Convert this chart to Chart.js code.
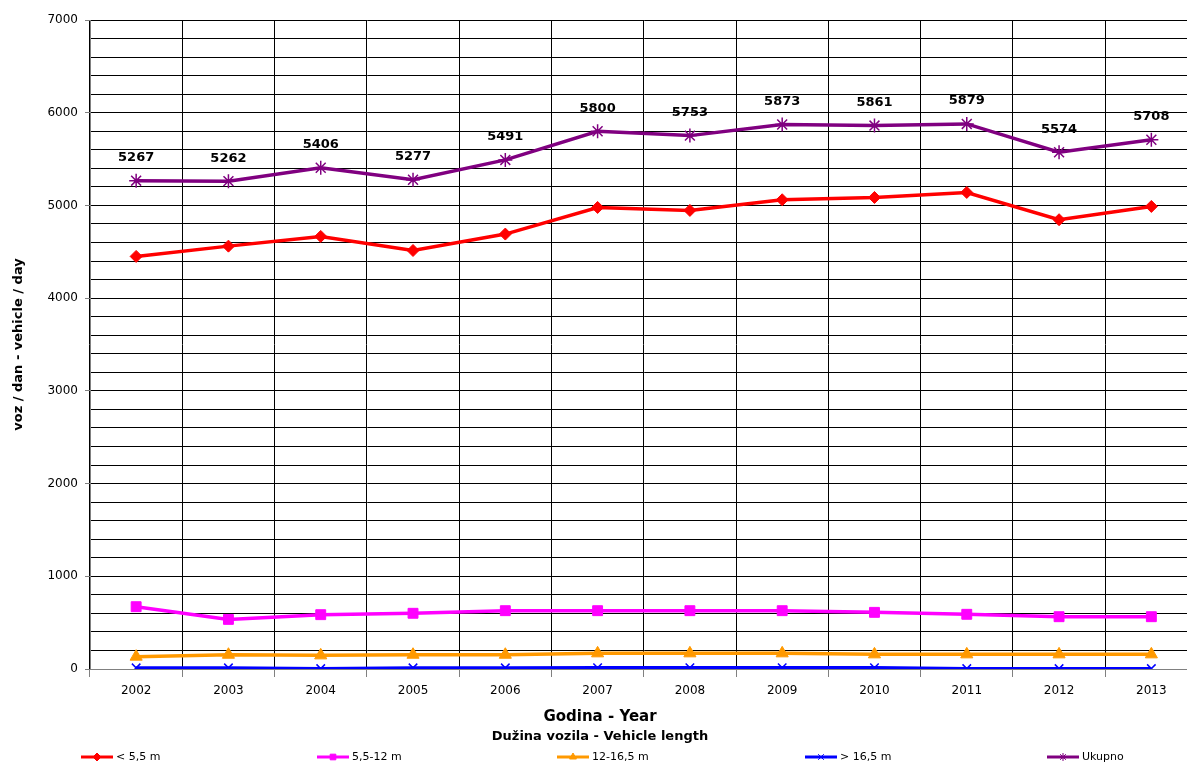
<!DOCTYPE html>
<html>
<head>
    <meta charset="utf-8">
    <title>Dužina vozila - Vehicle length</title>
    <script src="https://cdn.jsdelivr.net/npm/chart.js"></script>
    <style>
        body {
            margin: 0;
            padding: 0;
            background: #fff;
            overflow: hidden;
        }

        #chart-container {
            width: 1206px;
            height: 764px;
        }
    </style>
</head>
<body>
    <div id="chart-container">
        <canvas id="myChart" width="1206" height="764"></canvas>
    </div>

    <script>
        // data
        const years = ['2002', '2003', '2004', '2005', '2006', '2007', '2008', '2009', '2010', '2011', '2012', '2013'];
        const under55 = [4450, 4561, 4666, 4514, 4691, 4978, 4946, 5061, 5086, 5140, 4846, 4989];
        const from55to12 = [672, 535, 586, 601, 629, 629, 629, 629, 611, 590, 564, 564];
        const from12to165 = [133, 154, 147, 154, 154, 169, 169, 169, 158, 158, 158, 158];
        const over165 = [12, 12, 4, 12, 12, 14, 14, 14, 14, 4, 4, 4];
        const total = [5267, 5262, 5406, 5277, 5491, 5800, 5753, 5873, 5861, 5879, 5574, 5708];
        const seriesNames = ['< 5,5 m', '5,5-12 m', '12-16,5 m', '> 16,5 m', 'Ukupno'];
        const yLabels = [0, 1000, 2000, 3000, 4000, 5000, 6000, 7000];

        const FONT = '"DejaVu Sans", Verdana, sans-serif';

        function series(label, data, color, style, radius, pointWidth) {
            return {
                label: label,
                data: data,
                borderColor: color,
                backgroundColor: color,
                borderWidth: 3.5,
                pointStyle: style,
                pointRadius: radius,
                pointBorderWidth: pointWidth,
                pointBackgroundColor: color,
                pointBorderColor: color,
                tension: 0
            };
        }

        const datasets = [
            series(seriesNames[0], under55, '#ff0000', 'rectRot', 6, 1),
            series(seriesNames[1], from55to12, '#ff00ff', 'rect', 7, 1),
            series(seriesNames[2], from12to165, '#ff9900', 'triangle', 7, 1),
            series(seriesNames[3], over165, '#0000ff', 'crossRot', 6, 1.5),
            series(seriesNames[4], total, '#800080', 'star', 7, 1.5)
        ];

        // labels above the total line, x titles and the spread-out legend
        const extras = {
            id: 'extras',
            afterDraw(chart) {
                const ctx = chart.ctx;
                ctx.save();
                ctx.fillStyle = '#000';
                ctx.textAlign = 'center';
                ctx.textBaseline = 'middle';

                ctx.font = 'bold 13px ' + FONT;
                const meta = chart.getDatasetMeta(4);
                meta.data.forEach((pt, i) => {
                    ctx.fillText(String(total[i]), pt.x, pt.y - 23);
                });

                ctx.font = 'bold 15px ' + FONT;
                ctx.fillText('Godina - Year', 600, 717);
                ctx.font = 'bold 13px ' + FONT;
                ctx.fillText('Dužina vozila - Vehicle length', 600, 737);

                const legendX = [81, 317, 557, 805, 1047];
                const ly = 757;
                ctx.font = '11px ' + FONT;
                ctx.textAlign = 'left';
                datasets.forEach((ds, i) => {
                    const x0 = legendX[i];
                    ctx.strokeStyle = ds.borderColor;
                    ctx.lineWidth = 3;
                    ctx.beginPath();
                    ctx.moveTo(x0, ly);
                    ctx.lineTo(x0 + 32, ly);
                    ctx.stroke();
                    if (Chart.helpers && Chart.helpers.drawPoint) {
                        ctx.fillStyle = ds.borderColor;
                        ctx.lineWidth = 1;
                        Chart.helpers.drawPoint(ctx, {
                            pointStyle: ds.pointStyle,
                            radius: 4,
                            rotation: 0,
                            borderWidth: 1
                        }, x0 + 16, ly);
                    }
                    ctx.fillStyle = '#000';
                    ctx.fillText(ds.label, x0 + 35, ly);
                });
                ctx.restore();
            }
        };

        new Chart(document.getElementById('myChart'), {
            type: 'line',
            data: {
                labels: years,
                datasets: datasets
            },
            options: {
                responsive: false,
                animation: false,
                devicePixelRatio: 1,
                layout: {
                    padding: { top: 20, right: 3, left: 0, bottom: 0 }
                },
                plugins: {
                    legend: { display: false },
                    tooltip: { enabled: false }
                },
                scales: {
                    x: {
                        offset: true,
                        grid: {
                            offset: true,
                            color: '#000',
                            tickLength: 8,
                            tickColor: '#808080'
                        },
                        border: { color: '#808080' },
                        ticks: {
                            color: '#000',
                            font: { family: FONT, size: 12 },
                            padding: 7,
                            maxRotation: 0
                        },
                        afterFit(scale) { scale.height = 95; }
                    },
                    y: {
                        min: 0,
                        max: 7000,
                        ticks: {
                            stepSize: 200,
                            autoSkip: false,
                            color: '#000',
                            font: { family: FONT, size: 12 },
                            padding: 7,
                            callback: v => yLabels.includes(v) ? String(v) : ''
                        },
                        grid: {
                            color: '#000',
                            tickLength: 5,
                            tickColor: c => (c.tick && yLabels.includes(c.tick.value)) ? '#808080' : 'rgba(0,0,0,0)'
                        },
                        border: { color: '#808080' },
                        title: {
                            display: true,
                            text: 'voz / dan - vehicle / day',
                            color: '#000',
                            font: { family: FONT, size: 13, weight: 'bold' },
                            padding: { top: 11, bottom: 0 }
                        },
                        afterFit(scale) { scale.width = 90; }
                    }
                }
            },
            plugins: [extras]
        });
    </script>
</body>
</html>
